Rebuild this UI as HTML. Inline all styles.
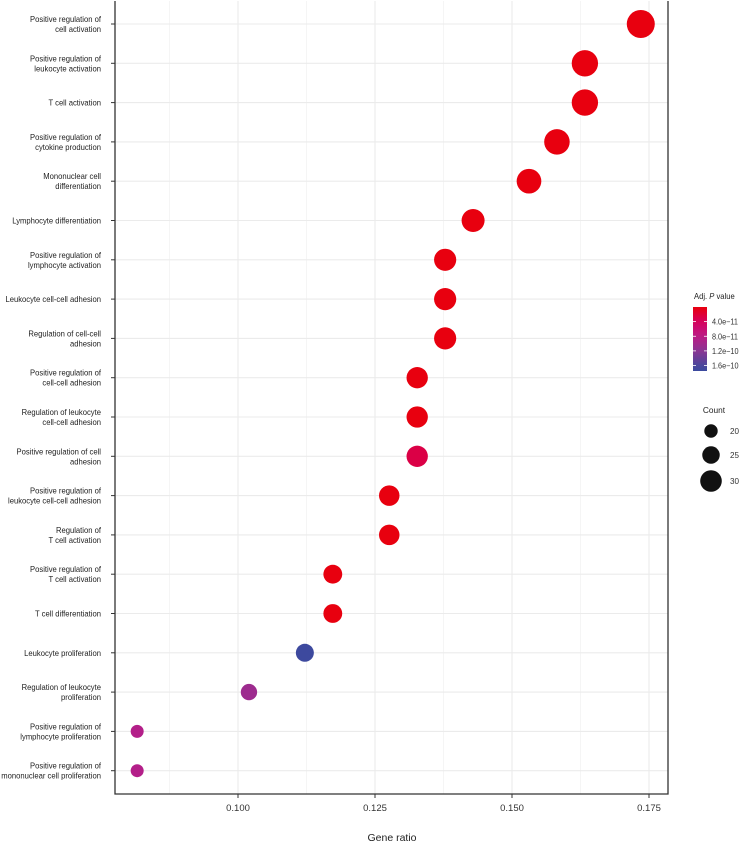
<!DOCTYPE html>
<html><head><meta charset="utf-8"><style>
html,body{margin:0;padding:0;background:#fff;}
svg{display:block;font-family:"Liberation Sans",Arial,sans-serif;}
</style></head><body>
<svg id="chart" width="740" height="845" viewBox="0 0 740 845" xmlns="http://www.w3.org/2000/svg">
<g id="grid"></g>
<g id="dots"></g>
<g id="yaxis"></g>
<g id="xaxis"></g>
<text x="392" y="841" font-size="10.5" text-anchor="middle" fill="#222">Gene ratio</text>
<g id="legend"></g>
</svg>
<script>
const categories = [
 ["Positive regulation of","cell activation"],
 ["Positive regulation of","leukocyte activation"],
 ["T cell activation"],
 ["Positive regulation of","cytokine production"],
 ["Mononuclear cell","differentiation"],
 ["Lymphocyte differentiation"],
 ["Positive regulation of","lymphocyte activation"],
 ["Leukocyte cell-cell adhesion"],
 ["Regulation of cell-cell","adhesion"],
 ["Positive regulation of","cell-cell adhesion"],
 ["Regulation of leukocyte","cell-cell adhesion"],
 ["Positive regulation of cell","adhesion"],
 ["Positive regulation of","leukocyte cell-cell adhesion"],
 ["Regulation of","T cell activation"],
 ["Positive regulation of","T cell activation"],
 ["T cell differentiation"],
 ["Leukocyte proliferation"],
 ["Regulation of leukocyte","proliferation"],
 ["Positive regulation of","lymphocyte proliferation"],
 ["Positive regulation of","mononuclear cell proliferation"]
];
const counts = [34,32,32,31,30,28,27,27,27,26,26,26,25,25,23,23,22,20,16,16];
const geneRatio = [0.1735,0.1633,0.1633,0.1582,0.1531,0.1429,0.1378,0.1378,0.1378,0.1327,0.1327,0.1327,0.1276,0.1276,0.1173,0.1173,0.1122,0.1020,0.0816,0.0816];
const pvalues = [1e-12,1e-12,1e-12,1e-12,1e-12,1e-12,1e-12,1e-12,1e-12,1e-12,1e-12,2.8e-11,1e-12,1e-12,1e-12,1e-12,1.68e-10,1.05e-10,8.8e-11,8.8e-11];
const xTicks = [0.100,0.125,0.150,0.175];
const xTickLabels = ["0.100","0.125","0.150","0.175"];
const pTicks = [4e-11,8e-11,1.2e-10,1.6e-10];
const pTickLabels = ["4.0e\u221211","8.0e\u221211","1.2e\u221210","1.6e\u221210"];
const sizeCounts = [20,25,30];

const NS="http://www.w3.org/2000/svg";
const L=115, R=668, T=1, B=794;
const xScale = v => 238 + (v-0.1)*5480;
const yScale = i => 24 + i*39.3;
const rScale = c => -0.17 + 0.417*c;
const stops=[[0,[232,0,13]],[4e-11,[214,0,94]],[8e-11,[189,26,134]],[1.2e-10,[138,53,147]],[1.7e-10,[58,74,158]]];
function colorOf(p){
  for(let k=0;k<stops.length-1;k++){const a=stops[k],b=stops[k+1];
    if(p<=b[0]){const t=Math.max(0,(p-a[0])/(b[0]-a[0]));
      return "rgb("+a[1].map((c,j)=>Math.round(c+(b[1][j]-c)*t)).join(",")+")";}}
  return "rgb(58,74,158)";
}
function mk(tag,attrs,parent){const e=document.createElementNS(NS,tag);for(const k in attrs)e.setAttribute(k,attrs[k]);parent.appendChild(e);return e;}
const grid=document.getElementById('grid'),dots=document.getElementById('dots'),ya=document.getElementById('yaxis'),xa=document.getElementById('xaxis'),lg=document.getElementById('legend');

for(let v=0.0875;v<0.18;v+=0.025){const x=xScale(v);if(x>L&&x<R){const l=mk('line',{x1:x,x2:x,y1:T,y2:B,stroke:'#f3f3f3','stroke-width':0.8},grid);

}}
xTicks.forEach((v,i)=>{const x=xScale(v);
 const g=mk('line',{x1:x,x2:x,y1:T,y2:B,stroke:'#ebebeb','stroke-width':1.1},grid);
 
 
 const t=mk('line',{x1:x,x2:x,y1:B,y2:B+4,stroke:'#333','stroke-width':1},xa);
 
 
 const tx=mk('text',{x:x,y:B+17,'font-size':9.5,'text-anchor':'middle',fill:'#333'},xa);tx.textContent=xTickLabels[i];
 
 
});
categories.forEach((lab,i)=>{const y=yScale(i);
 const g=mk('line',{x1:L,x2:R,y1:y,y2:y,stroke:'#ebebeb','stroke-width':1.1},grid);
 
 
 const t=mk('line',{x1:L-4,x2:L,y1:y,y2:y,stroke:'#333','stroke-width':1},ya);
 
 
 const tx=mk('text',{x:101,'font-size':8.6,'text-anchor':'end',fill:'#222',transform:'translate(101,0) scale(0.89,1) translate(-101,0)'},ya);
 
 
 const y0 = lab.length===1? y+3 : y-2;
 lab.forEach((s,k)=>{const ts=mk('tspan',{x:101,y:y0+k*10},tx);ts.textContent=s;});
 const c=mk('circle',{cx:xScale(geneRatio[i]),cy:y,r:rScale(counts[i]),fill:colorOf(pvalues[i])},dots);
 
 
});
const ax=mk('path',{d:`M${L} ${T} V${B} H${R} V${T}`,fill:'none',stroke:'#333','stroke-width':1.3},xa);



const lt=mk('text',{x:694,y:299,'font-size':8.3,fill:'#222',transform:'translate(694,0) scale(0.92,1) translate(-694,0)'},lg);


lt.innerHTML='Adj. <tspan font-style="italic">P</tspan> value';
const defs=mk('defs',{},lg);
const grad=mk('linearGradient',{id:'pg',x1:0,y1:0,x2:0,y2:1},defs);
const pMax=1.75e-10;
for(let k=0;k<=10;k++){const p=k/10*pMax;mk('stop',{offset:(k*10)+'%','stop-color':colorOf(p)},grad);}
const barTop=307,barBot=371;
const bar=mk('rect',{x:693,y:barTop,width:14,height:barBot-barTop,fill:'url(#pg)'},lg);


const pY=p=>barTop+(p/pMax)*(barBot-barTop);
pTicks.forEach((p,i)=>{const y=pY(p);
 mk('line',{x1:693,x2:696,y1:y,y2:y,stroke:'#fff','stroke-width':0.8},lg);
 mk('line',{x1:704,x2:707,y1:y,y2:y,stroke:'#fff','stroke-width':0.8},lg);
 const t=mk('text',{x:712,y:y+3,'font-size':8.1,fill:'#333',transform:'translate(712,0) scale(0.9,1) translate(-712,0)'},lg);t.textContent=pTickLabels[i];
 
 
});
const ct=mk('text',{x:714,y:413,'font-size':8.3,'text-anchor':'middle',fill:'#222'},lg);ct.textContent='Count';


const sizeY=[431,455,481];
const legR=c=>-1.5+0.41*c;
sizeCounts.forEach((c,i)=>{
 const ci=mk('circle',{cx:711,cy:sizeY[i],r:legR(c),fill:'#111'},lg);
 
 
 const t=mk('text',{x:730,y:sizeY[i]+3,'font-size':8.1,fill:'#333'},lg);t.textContent=c;
 
 
});
</script>
</body></html>
